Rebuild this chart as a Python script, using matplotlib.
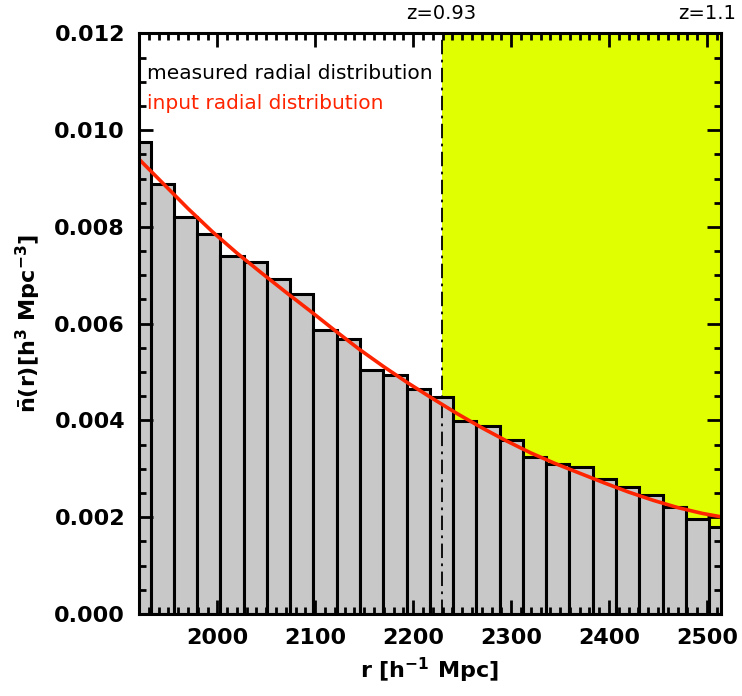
import numpy as np
import matplotlib
matplotlib.use("Agg")
import matplotlib.pyplot as plt
from matplotlib.ticker import MultipleLocator

plt.rcParams["font.family"] = ["DejaVu Sans"]
plt.rcParams["mathtext.fontset"] = "dejavusans"
plt.rcParams["mathtext.default"] = "bf"

# Radial range of the sample and bin layout (bins centred on a regular grid)
r_min, r_max = 1920.0, 2514.0
n_bins = 26
bin_width = (r_max - r_min) / (n_bins - 1)
bin_centers = r_min + bin_width * np.arange(n_bins)

# Measured number density per radial bin
measured_n = [0.00976, 0.00889, 0.00821, 0.00785, 0.00740, 0.00728, 0.00692,
              0.00661, 0.00586, 0.00568, 0.00504, 0.00494, 0.00466, 0.00448,
              0.00399, 0.00389, 0.00360, 0.00324, 0.00311, 0.00304, 0.00278,
              0.00263, 0.00246, 0.00221, 0.00196, 0.00179]

# Input (model) radial distribution
input_r = [1920, 1945, 1970, 1995, 2020, 2045, 2070, 2095, 2120, 2145, 2170,
           2195, 2220, 2245, 2270, 2295, 2320, 2345, 2370, 2395, 2420, 2445,
           2470, 2495, 2514]
input_n = [0.00940, 0.00889, 0.00838, 0.00790, 0.00746, 0.00705, 0.00665,
           0.00626, 0.00586, 0.00547, 0.00511, 0.00477, 0.00445, 0.00414,
           0.00385, 0.00358, 0.00333, 0.00311, 0.00291, 0.00271, 0.00252,
           0.00235, 0.00220, 0.00208, 0.00201]

# Redshift markers on the top axis
z_labels = ["z=0.93", "z=1.1"]
z_positions = [2229.0, 2514.0]

red = "#ff2400"

fig = plt.figure(figsize=(7.42, 6.96), dpi=100)
ax = fig.add_axes([0.1873, 0.1178, 0.9713 - 0.1873, 0.9521 - 0.1178])

# High-redshift region
ax.axvspan(z_positions[0], r_max, color="#e0ff00", zorder=0, lw=0)

ax.bar(bin_centers, measured_n, width=bin_width, color="#c8c8c8",
       edgecolor="black", linewidth=2.2, zorder=1)

ax.axvline(z_positions[0], color="black", lw=1.3, ls=(0, (8, 3, 1.5, 3)),
           zorder=2)

ax.plot(input_r, input_n, color=red, lw=2.6, zorder=3)

ax.set_xlim(r_min, r_max)
ax.set_ylim(0, 0.012)

ax.xaxis.set_major_locator(MultipleLocator(100))
ax.xaxis.set_minor_locator(MultipleLocator(10))
ax.yaxis.set_major_locator(MultipleLocator(0.002))
ax.yaxis.set_minor_locator(MultipleLocator(0.0005))
ax.yaxis.set_major_formatter(matplotlib.ticker.FormatStrFormatter("%.3f"))

ax.tick_params(which="both", direction="in", top=True, right=True, width=2)
ax.tick_params(which="major", length=10, labelsize=16, pad=10)
ax.tick_params(which="minor", length=5)
for lbl in ax.get_xticklabels() + ax.get_yticklabels():
    lbl.set_fontweight("bold")
for sp in ax.spines.values():
    sp.set_linewidth(2.2)
    sp.set_zorder(4)

ax.set_xlabel(r"r [h$^{-1}$ Mpc]", fontsize=16, fontweight="bold", labelpad=6)
ax.set_ylabel(r"$\bar{n}$(r)[h$^{3}$ Mpc$^{-3}$]", fontsize=16,
              fontweight="bold", labelpad=8)

ax.text(1928.5, 0.01118, "measured radial distribution", fontsize=14.5,
        color="black", va="center", ha="left", zorder=5)
ax.text(1928.5, 0.01056, "input radial distribution", fontsize=14.5,
        color=red, va="center", ha="left", zorder=5)

# Top-axis redshift labels; the last one is right-aligned so it stays on the canvas
ax.text(z_positions[0], 0.0124, z_labels[0], fontsize=14, ha="center",
        va="center", clip_on=False)
ax.annotate(z_labels[1], xy=(z_positions[1], 0.0124), xytext=(11, 0),
            textcoords="offset points", fontsize=14, ha="right",
            va="center", annotation_clip=False)

fig.savefig("out.png", dpi=100)
